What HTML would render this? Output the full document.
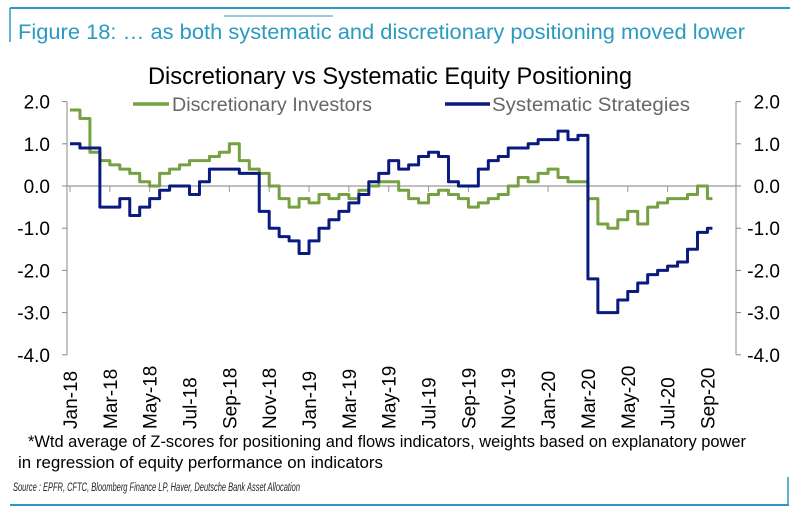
<!DOCTYPE html>
<html><head><meta charset="utf-8"><style>
body{margin:0;background:#fff;}
svg{display:block;font-family:"Liberation Sans Narrow","Liberation Sans",sans-serif;}
</style></head><body>
<svg id="chart" width="800" height="510" viewBox="0 0 800 510" xmlns="http://www.w3.org/2000/svg">
<line x1="10" y1="8" x2="790" y2="8" stroke="#2a9ac0" stroke-width="2"/>
<line x1="10" y1="8" x2="10" y2="42" stroke="#2a9ac0" stroke-width="1.5"/>
<text x="18" y="39" font-size="21" fill="#2a9ac0" textLength="727" lengthAdjust="spacingAndGlyphs">Figure 18: … as both systematic and discretionary positioning moved lower</text>
<line x1="224" y1="16" x2="333" y2="16" stroke="#2a9ac0" stroke-width="1"/>
<text x="148" y="84" font-size="24" fill="#000" textLength="484" lengthAdjust="spacingAndGlyphs">Discretionary vs Systematic Equity Positioning</text>
<g>
<line x1="133" y1="104" x2="169" y2="104" stroke="#77a043" stroke-width="3.5"/>
<text x="172" y="111" font-size="19" fill="#666" textLength="200" lengthAdjust="spacingAndGlyphs">Discretionary Investors</text>
<line x1="445" y1="104" x2="490" y2="104" stroke="#0a1a7e" stroke-width="3.5"/>
<text x="492" y="111" font-size="19" fill="#666" textLength="198" lengthAdjust="spacingAndGlyphs">Systematic Strategies</text>
</g>
<g id="axes"></g>
<g id="series"></g>
<text x="28" y="447" font-size="17" fill="#000" textLength="718" lengthAdjust="spacingAndGlyphs">*Wtd average of Z-scores for positioning and flows indicators, weights based on explanatory power</text>
<text x="18" y="468" font-size="17" fill="#000" textLength="365" lengthAdjust="spacingAndGlyphs">in regression of equity performance on indicators</text>
<text x="13" y="491" font-size="11.5" font-style="italic" fill="#222" textLength="287" lengthAdjust="spacingAndGlyphs">Source : EPFR, CFTC, Bloomberg Finance LP, Haver, Deutsche Bank Asset Allocation</text>
<line x1="10" y1="505" x2="789" y2="505" stroke="#2a9ac0" stroke-width="2"/>
<line x1="788" y1="477" x2="788" y2="505" stroke="#2a9ac0" stroke-width="1.5"/>
</svg>
<script>
const yTicks = [2, 1, 0, -1, -2, -3, -4];
const yTickLabels = ["2.0","1.0","0.0","-1.0","-2.0","-3.0","-4.0"];
const xTickLabels = ["Jan-18","Mar-18","May-18","Jul-18","Sep-18","Nov-18","Jan-19","Mar-19","May-19","Jul-19","Sep-19","Nov-19","Jan-20","Mar-20","May-20","Jul-20","Sep-20"];
// half-month observations starting Jan-18
const discretionary = [1.8,1.6, 0.8,0.6, 0.5,0.4, 0.3,0.1, 0.0,0.3, 0.4,0.5, 0.6,0.6, 0.7,0.8, 1.0,0.6, 0.4,0.3, 0.0,-0.3, -0.5,-0.3, -0.4,-0.2, -0.3,-0.2, -0.3,-0.1, 0.0,0.1, 0.1,-0.1, -0.3,-0.4, -0.2,-0.1, -0.2,-0.3, -0.5,-0.4, -0.3,-0.2, 0.0,0.2, 0.1,0.3, 0.4,0.2, 0.1,0.1, -0.3,-0.9, -1.0,-0.8, -0.6,-0.9, -0.5,-0.4, -0.3,-0.3, -0.2,0.0, -0.3];
const systematic = [1.0,0.9, 0.9,-0.5, -0.5,-0.3, -0.7,-0.5, -0.3,-0.1, 0.0,0.0, -0.2,0.1, 0.4,0.4, 0.4,0.3, 0.3,-0.6, -1.0,-1.2, -1.3,-1.6, -1.3,-1.0, -0.8,-0.6, -0.4,-0.2, 0.1,0.3, 0.6,0.4, 0.5,0.7, 0.8,0.7, 0.1,0.0, 0.0,0.4, 0.6,0.7, 0.9,0.9, 1.0,1.1, 1.1,1.3, 1.1,1.2, -2.2,-3.0, -3.0,-2.7, -2.5,-2.3, -2.1,-2.0, -1.9,-1.8, -1.5,-1.1, -1.0];

const NS = "http://www.w3.org/2000/svg";
const X0 = 70, PX_PER_MONTH = 19.92, Y0 = 186, PX_PER_UNIT = 42.2;
const xOfMonth = m => X0 + m * PX_PER_MONTH;
const yOf = v => Y0 - v * PX_PER_UNIT;
function mk(tag, attrs, parent){ const e=document.createElementNS(NS,tag); for(const k in attrs) e.setAttribute(k,attrs[k]); parent.appendChild(e); return e; }
const axes = document.getElementById('axes');
const series = document.getElementById('series');

// left & right axes
let la = mk('line',{x1:67,y1:yOf(2),x2:67,y2:yOf(-4),stroke:'#888','stroke-width':1},axes);


let ra = mk('line',{x1:736,y1:yOf(2),x2:736,y2:yOf(-4),stroke:'#888','stroke-width':1},axes);


yTicks.forEach((v,i)=>{
  const y = yOf(v);
  mk('line',{x1:62,y1:y,x2:67,y2:y,stroke:'#888'},axes);
  mk('line',{x1:736,y1:y,x2:741,y2:y,stroke:'#888'},axes);
  const tl = mk('text',{x:50,y:y+7,'font-size':19,'text-anchor':'end',fill:'#000'},axes);
  tl.textContent = yTickLabels[i];
  
  
  const tr = mk('text',{x:780,y:y+7,'font-size':19,'text-anchor':'end',fill:'#000'},axes);
  tr.textContent = yTickLabels[i];
  
  
});
// zero line
let zl = mk('line',{x1:67,y1:yOf(0),x2:736,y2:yOf(0),stroke:'#999','stroke-width':1.2},axes);


xTickLabels.forEach((lab,i)=>{
  const x = xOfMonth(i*2);
  mk('line',{x1:x,y1:yOf(0),x2:x,y2:yOf(0)+6,stroke:'#999'},axes);
  const t = mk('text',{x:0,y:0,'font-size':19,fill:'#000',transform:`translate(${x+7},429) rotate(-90)`},axes);
  t.textContent = lab;
  
  
});
function stepPath(vals){
  let d='';
  vals.forEach((v,i)=>{
    const x = xOfMonth(i/2), y = yOf(v);
    if(i===0) d += `M${x},${y}`; else d += `H${x}V${y}`;
  });
  d += `H${xOfMonth(vals.length/2 - 0.25)}`;
  return d;
}
const pg = mk('path',{d:stepPath(discretionary),fill:'none',stroke:'#77a043','stroke-width':3,'stroke-linejoin':'round'},series);


const pn = mk('path',{d:stepPath(systematic),fill:'none',stroke:'#0a1a7e','stroke-width':3,'stroke-linejoin':'round'},series);


</script>
</body></html>
